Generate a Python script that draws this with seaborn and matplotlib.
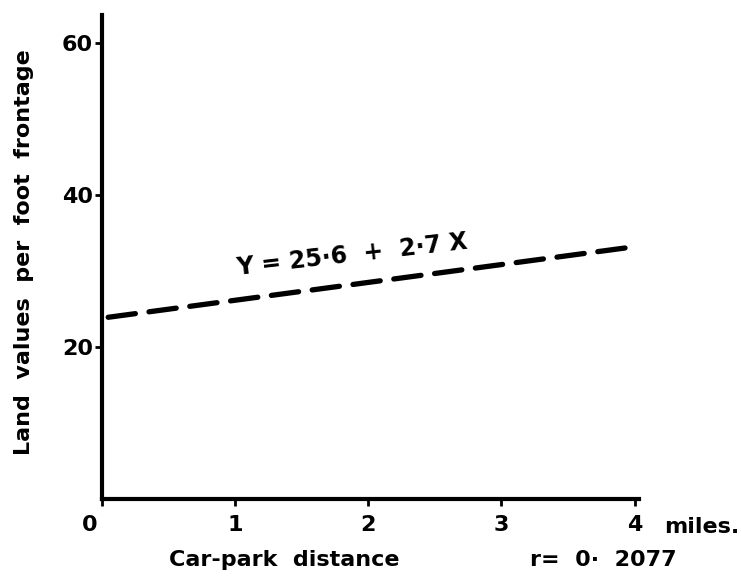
import matplotlib
matplotlib.use("Agg")
import matplotlib.pyplot as plt
import matplotlib.transforms as mtransforms
import seaborn as sns
import pandas as pd

# Regression line end points (miles, value per foot frontage)
distance_miles = [0.05, 3.96]
land_value = [23.9, 33.1]

x_ticks = [0, 1, 2, 3, 4]
x_tick_labels = ["0", "1", "2", "3", "4"]
y_ticks = [20, 40, 60]
y_tick_labels = ["20", "40", "60"]

equation_label = "Y = 25·6  +  2·7 X"
r_label = "r=  0·  2077"

sns.set_style("ticks")
plt.rcParams["font.family"] = ["DejaVu Sans"]
plt.rcParams["text.color"] = "black"
plt.rcParams["axes.labelcolor"] = "black"

FS = 16
W = "bold"

fig = plt.figure(figsize=(7.41, 5.76), dpi=100)
ax = fig.add_axes([0.137, 0.134, 0.725, 0.840])

df = pd.DataFrame({"distance": distance_miles, "value": land_value})
sns.lineplot(data=df, x="distance", y="value", ax=ax, color="black",
             linewidth=3.8, linestyle=(0, (5.2, 2.6)),
             solid_capstyle="round", dash_capstyle="round")

ax.set_xlim(0, 4.03)
ax.set_ylim(0, 63.7)

ax.set_xticks(x_ticks)
ax.set_xticklabels(x_tick_labels, fontweight=W)
ax.set_yticks(y_ticks)
ax.set_yticklabels(y_tick_labels, fontweight=W)
ax.tick_params(axis="both", direction="out", width=2, length=5,
               labelsize=FS, colors="black")
ax.tick_params(axis="x", pad=7)
ax.tick_params(axis="y", pad=1)

# the origin label sits just left of the vertical axis
origin_label = ax.get_xticklabels()[0]
origin_label.set_transform(origin_label.get_transform() +
                           mtransforms.ScaledTranslation(-12 / 100, 0, fig.dpi_scale_trans))

for side in ("top", "right"):
    ax.spines[side].set_visible(False)
for side in ("left", "bottom"):
    ax.spines[side].set_linewidth(3)
    ax.spines[side].set_color("black")

ax.set_xlabel("Car-park  distance", fontsize=FS, fontweight=W)
ax.xaxis.set_label_coords(0.34, -0.105)
ax.set_ylabel("Land  values  per  foot  frontage", fontsize=FS, fontweight=W)
ax.yaxis.set_label_coords(-0.125, 0.51)

ax.text(1.88, 32.1, equation_label, fontsize=17, fontweight=W,
        rotation=6.5, ha="center", va="center", rotation_mode="anchor")

fig.text(664 / 741, 1 - 527 / 576, "miles.", fontsize=FS, fontweight=W,
         ha="left", va="center")
fig.text(530 / 741, 1 - 560 / 576, r_label, fontsize=FS, fontweight=W,
         ha="left", va="center")

fig.savefig("out.png", dpi=100, facecolor="white")
